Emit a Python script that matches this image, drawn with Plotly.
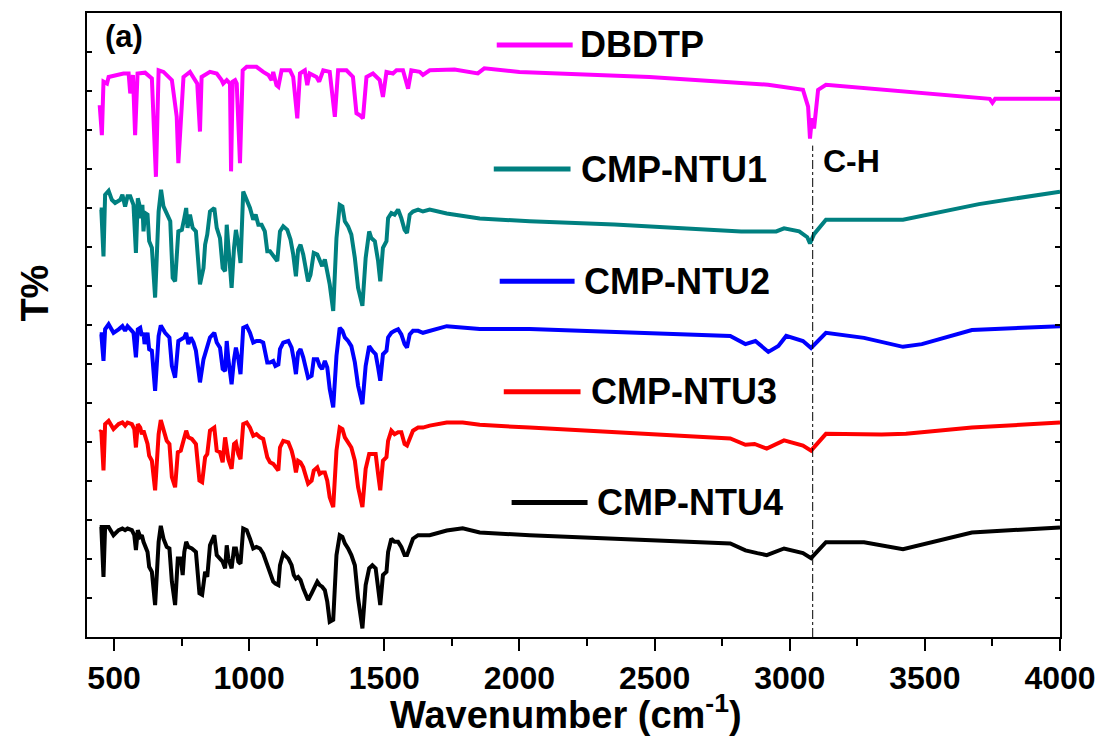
import plotly.graph_objects as go

# ---- FTIR spectra (wavenumber in cm-1, stacked transmittance in arbitrary units) ----
dbdtp_wn = [447, 455, 461, 474, 480, 535, 554, 560, 570, 578, 587, 615, 640, 655, 665,
            683, 714, 732, 738, 747, 757, 781, 800, 808, 818, 824, 855, 880, 898, 904,
            917, 929, 933, 939, 948, 954, 966, 976, 991, 1027, 1052, 1071, 1083, 1089, 1101,
            1108, 1120, 1151, 1163, 1178, 1188, 1206, 1215, 1224, 1249, 1259, 1274, 1298, 1317, 1329,
            1360, 1384, 1397, 1409, 1421, 1434, 1458, 1483, 1495, 1508, 1532, 1545, 1569, 1588, 1600,
            1631, 1643, 1668, 1760, 1846, 1870, 2000, 2481, 2920, 3049, 3068, 3075, 3082, 3090, 3098,
            3105, 3134, 3400, 3740, 3750, 3760, 4000]
dbdtp_t = [13.64, 12.87, 14.24, 14.19, 14.36, 14.45, 14.45, 13.94, 14.41, 12.87, 14.45, 14.47, 14.32, 11.80, 14.53,
           14.49, 14.28, 13.34, 12.15, 13.26, 14.36, 14.49, 14.28, 14.19, 12.96, 14.36, 14.49, 14.45, 14.28, 14.19,
           14.28, 14.19, 11.94, 14.24, 14.28, 14.19, 12.15, 14.53, 14.62, 14.62, 14.49, 14.41, 14.28, 14.49, 14.15,
           14.11, 14.53, 14.53, 14.36, 13.30, 14.45, 14.53, 14.15, 14.45, 14.36, 14.24, 14.53, 14.49, 13.34, 14.53,
           14.53, 14.36, 13.43, 13.38, 13.30, 14.36, 14.45, 14.28, 13.85, 14.49, 14.45, 14.53, 14.53, 14.06, 14.53,
           14.49, 14.41, 14.53, 14.55, 14.45, 14.58, 14.49, 14.36, 14.16, 14.03, 13.60, 12.78, 13.30, 13.04, 13.60,
           14.03, 14.16, 14.00, 13.80, 13.70, 13.80, 13.80]

ntu1_wn = [447, 453, 461, 467, 480, 492, 504, 523, 531, 541, 550, 560, 572, 581, 588, 594, 600, 605, 609, 615,
           624, 630, 640, 652, 665, 674, 683, 695, 708, 717, 726, 738, 751, 760, 767, 772, 781, 791, 803, 818,
           831, 837, 845, 855, 871, 880, 892, 902, 911, 917, 923, 935, 944, 951, 960, 968, 978, 991, 1003, 1015,
           1024, 1034, 1046, 1058, 1067, 1077, 1087, 1097, 1104, 1114, 1126, 1141, 1153, 1163, 1173, 1181, 1190, 1200, 1218, 1227,
           1239, 1252, 1261, 1270, 1280, 1289, 1298, 1311, 1323, 1335, 1345, 1354, 1366, 1378, 1391, 1403, 1419, 1431, 1444, 1452,
           1465, 1477, 1485, 1495, 1508, 1514, 1526, 1538, 1551, 1563, 1575, 1584, 1594, 1606, 1625, 1643, 1668, 1731, 1853, 2038,
           2351, 2820, 2950, 2979, 3035, 3065, 3075, 3090, 3134, 3419, 3659, 3700, 4000]
ntu1_t = [10.96, 10.96, 9.76, 11.34, 11.44, 11.21, 11.13, 11.21, 11.34, 11.04, 11.30, 11.30, 11.08, 9.85, 11.25, 11.08, 10.74, 11.08, 10.40, 10.87,
          10.83, 10.15, 9.98, 8.70, 10.91, 11.47, 11.04, 10.83, 10.66, 9.21, 9.12, 10.40, 10.44, 10.74, 11.00, 10.49, 10.83, 10.49, 10.40, 9.04,
          9.46, 10.06, 10.32, 10.91, 11.00, 10.49, 10.23, 9.46, 9.38, 10.57, 9.89, 8.95, 9.98, 10.44, 10.06, 9.59, 11.42, 11.21, 11.00, 10.70,
          10.83, 10.57, 10.57, 10.40, 9.89, 9.89, 9.81, 9.72, 9.64, 10.40, 10.53, 10.44, 10.19, 9.81, 9.25, 9.93, 10.06, 9.81, 9.12, 9.29,
          9.85, 9.81, 9.68, 9.51, 9.68, 9.38, 9.04, 8.36, 10.23, 11.08, 11.04, 10.66, 10.53, 10.32, 9.72, 8.95, 8.49, 9.72, 10.40, 10.23,
          10.15, 9.64, 9.12, 9.98, 10.15, 10.74, 10.87, 10.83, 10.96, 10.74, 10.44, 10.36, 10.83, 10.91, 10.96, 10.91, 10.96, 10.86, 10.73, 10.66,
          10.58, 10.40, 10.40, 10.48, 10.40, 10.25, 10.09, 10.33, 10.70, 10.70, 11.04, 11.10, 11.42]

ntu2_wn = [447, 453, 461, 467, 480, 498, 517, 531, 541, 550, 566, 572, 581, 588, 597, 603, 609, 613, 624, 630,
           640, 652, 665, 673, 689, 705, 714, 726, 738, 751, 760, 767, 775, 784, 794, 803, 818, 831, 837, 845,
           855, 871, 880, 892, 902, 911, 917, 923, 935, 944, 951, 960, 968, 978, 991, 1003, 1015, 1027, 1040, 1052,
           1067, 1077, 1089, 1097, 1108, 1114, 1126, 1145, 1157, 1165, 1173, 1181, 1190, 1200, 1218, 1231, 1239, 1252, 1261, 1270,
           1280, 1289, 1298, 1311, 1323, 1335, 1345, 1354, 1366, 1378, 1391, 1403, 1419, 1431, 1444, 1456, 1468, 1477, 1485, 1495,
           1508, 1514, 1526, 1538, 1551, 1563, 1575, 1584, 1594, 1606, 1625, 1643, 1668, 1731, 1853, 2038, 2780, 2836, 2873, 2921,
           2958, 2987, 3049, 3079, 3134, 3275, 3419, 3489, 3674, 4000]
ntu2_t = [7.76, 7.76, 7.08, 7.89, 8.02, 7.80, 7.89, 7.97, 7.85, 7.97, 7.85, 7.80, 7.17, 7.89, 7.93, 7.72, 7.80, 7.51, 7.80, 7.38,
          7.34, 6.31, 7.72, 7.99, 7.80, 7.68, 6.95, 6.65, 7.59, 7.63, 7.68, 7.80, 7.51, 7.68, 7.55, 7.34, 6.53, 7.12, 7.25, 7.38,
          7.68, 7.80, 7.55, 7.42, 6.87, 6.82, 7.59, 7.12, 6.48, 7.12, 7.42, 7.12, 6.74, 7.93, 7.97, 7.80, 7.55, 7.59, 7.59, 7.55,
          7.04, 7.04, 7.08, 6.95, 6.99, 7.38, 7.55, 7.59, 7.42, 7.12, 6.74, 7.29, 7.38, 7.17, 6.65, 6.70, 7.12, 7.12, 6.95, 6.87,
          7.08, 6.91, 6.36, 5.89, 7.21, 7.93, 7.85, 7.68, 7.59, 7.46, 7.04, 6.44, 5.97, 6.95, 7.46, 7.34, 7.25, 6.91, 6.57, 7.25,
          7.34, 7.68, 7.80, 7.85, 7.89, 7.76, 7.51, 7.42, 7.76, 7.85, 7.85, 7.80, 7.85, 7.97, 7.90, 7.90, 7.72, 7.51, 7.59, 7.31,
          7.46, 7.72, 7.59, 7.41, 7.80, 7.67, 7.44, 7.51, 7.87, 7.97]

ntu3_wn = [447, 453, 461, 467, 480, 498, 517, 531, 541, 550, 566, 575, 581, 588, 597, 603, 609, 615, 624, 630,
           640, 652, 665, 673, 683, 695, 705, 714, 726, 736, 747, 760, 767, 775, 788, 803, 816, 826, 837, 845,
           855, 871, 880, 892, 902, 911, 917, 923, 935, 944, 951, 960, 968, 978, 991, 1003, 1015, 1027, 1040, 1052,
           1067, 1077, 1089, 1097, 1108, 1114, 1126, 1145, 1157, 1165, 1173, 1181, 1190, 1200, 1218, 1231, 1239, 1252, 1261, 1270,
           1280, 1289, 1298, 1311, 1323, 1335, 1345, 1354, 1366, 1378, 1391, 1403, 1419, 1431, 1444, 1456, 1468, 1477, 1485, 1495,
           1508, 1514, 1526, 1538, 1551, 1563, 1575, 1584, 1594, 1606, 1625, 1643, 1668, 1731, 1790, 1853, 2038, 2780, 2836, 2870,
           2915, 2979, 3049, 3079, 3134, 3340, 3430, 3674, 4000]
ntu3_t = [5.25, 5.29, 4.27, 5.46, 5.54, 5.33, 5.46, 5.50, 5.42, 5.50, 5.46, 5.33, 4.86, 5.46, 5.37, 5.20, 5.29, 5.12, 4.95, 4.65,
          4.52, 3.76, 5.20, 5.56, 5.29, 5.03, 4.95, 4.10, 3.84, 4.74, 4.78, 5.12, 5.29, 5.12, 5.08, 4.95, 4.01, 3.97, 4.61, 4.69,
          5.29, 5.37, 4.78, 4.74, 4.48, 5.12, 4.86, 4.56, 4.31, 4.95, 4.99, 4.69, 4.56, 5.46, 5.50, 5.37, 5.16, 5.20, 5.12, 5.08,
          4.61, 4.48, 4.44, 4.35, 4.27, 4.86, 5.03, 4.99, 4.78, 4.56, 4.22, 4.52, 4.48, 4.35, 3.93, 4.01, 4.27, 4.35, 4.18, 4.22,
          4.22, 4.01, 3.58, 3.33, 4.78, 5.37, 5.33, 5.12, 4.99, 4.86, 4.52, 3.84, 3.33, 4.31, 4.69, 4.69, 4.69, 4.18, 3.76, 4.52,
          4.61, 5.03, 5.29, 5.20, 5.25, 5.25, 4.95, 4.91, 5.08, 5.29, 5.37, 5.37, 5.42, 5.50, 5.50, 5.44, 5.37, 5.09, 4.93, 4.95,
          4.83, 5.04, 4.91, 4.78, 5.21, 5.19, 5.21, 5.37, 5.50]

ntu4_wn = [447, 453, 461, 467, 480, 498, 517, 531, 541, 550, 566, 575, 581, 588, 597, 603, 609, 615, 624, 630,
           640, 652, 665, 673, 683, 695, 705, 714, 726, 736, 747, 754, 760, 767, 775, 788, 803, 816, 826, 837,
           845, 855, 871, 880, 892, 902, 911, 917, 923, 935, 944, 951, 960, 968, 978, 991, 1003, 1015, 1027, 1040,
           1052, 1067, 1077, 1089, 1097, 1108, 1114, 1126, 1145, 1157, 1165, 1173, 1181, 1190, 1200, 1218, 1231, 1239, 1252, 1261,
           1270, 1280, 1289, 1298, 1311, 1323, 1335, 1345, 1354, 1366, 1378, 1391, 1403, 1419, 1431, 1444, 1456, 1468, 1477, 1485,
           1495, 1508, 1514, 1526, 1538, 1551, 1563, 1575, 1584, 1594, 1606, 1625, 1643, 1668, 1731, 1790, 1853, 2038, 2780, 2836,
           2880, 2915, 2979, 3049, 3079, 3134, 3275, 3419, 3674, 4000]
ntu4_t = [2.82, 2.82, 1.54, 2.82, 2.82, 2.61, 2.74, 2.78, 2.74, 2.78, 2.74, 2.61, 2.23, 2.74, 2.57, 2.61, 2.44, 2.35, 2.18, 1.80,
          1.67, 0.82, 2.44, 2.85, 2.52, 2.31, 2.27, 1.42, 0.82, 2.01, 2.01, 1.59, 2.18, 2.44, 2.31, 2.27, 2.18, 1.12, 1.08, 1.67,
          1.54, 2.35, 2.61, 2.10, 2.01, 1.93, 1.76, 2.35, 2.01, 1.76, 2.27, 2.27, 1.93, 1.88, 2.78, 2.74, 2.52, 2.27, 2.31, 2.27,
          2.14, 1.84, 1.63, 1.42, 1.37, 1.33, 1.84, 2.14, 2.01, 1.84, 1.59, 1.50, 1.54, 1.46, 1.25, 0.95, 1.12, 1.25, 1.42, 1.33,
          1.29, 1.20, 0.90, 0.39, 0.44, 2.10, 2.61, 2.57, 2.40, 2.27, 2.10, 1.84, 0.99, 0.22, 1.33, 1.76, 1.84, 1.76, 1.16, 0.82,
          1.59, 1.67, 2.18, 2.52, 2.44, 2.44, 2.31, 2.10, 2.10, 2.31, 2.52, 2.61, 2.61, 2.61, 2.73, 2.79, 2.68, 2.61, 2.40, 2.22,
          2.15, 2.10, 2.27, 2.15, 2.02, 2.43, 2.43, 2.25, 2.68, 2.81]

series_names = ["DBDTP", "CMP-NTU1", "CMP-NTU2", "CMP-NTU3", "CMP-NTU4"]
series_wn = [dbdtp_wn, ntu1_wn, ntu2_wn, ntu3_wn, ntu4_wn]
series_t = [dbdtp_t, ntu1_t, ntu2_t, ntu3_t, ntu4_t]
series_colors = ["#FF00FF", "#008080", "#0000FF", "#FF0000", "#000000"]

ch_band = 3085          # C-H stretch marker (cm-1)
x_ticks = [500, 1000, 1500, 2000, 2500, 3000, 3500, 4000]

for wn, t, name in zip(series_wn, series_t, series_names):
    if len(wn) != len(t):
        raise ValueError(f"{name}: {len(wn)} wavenumbers vs {len(t)} values")

FONT = "Arial, 'Liberation Sans', Helvetica, sans-serif"

fig = go.Figure()
for wn, t, name, color in zip(series_wn, series_t, series_names, series_colors):
    fig.add_trace(go.Scatter(x=wn, y=t, mode="lines", name=name,
                             line=dict(color=color, width=4), showlegend=False))

# in-plot key: a short coloured segment followed by the sample name
key_layout = [  # (segment start, segment end, height, text start) in axis units
    (1916, 2197, 15.18, 2215),
    (1905, 2189, 12.00, 2222),
    (1927, 2204, 9.12, 2232),
    (1942, 2226, 6.29, 2258),
    (1971, 2252, 3.45, 2280),
]
for (x0, x1, yk, xt), name, color in zip(key_layout, series_names, series_colors):
    fig.add_shape(type="line", xref="x", yref="y", x0=x0, x1=x1, y0=yk, y1=yk,
                  line=dict(color=color, width=5))
    fig.add_annotation(x=xt, y=yk, xref="x", yref="y", text=name, showarrow=False,
                       xanchor="left", yanchor="middle",
                       font=dict(family=FONT, size=36, color="black", weight="bold"))

# C-H band guide line and label
fig.add_shape(type="line", xref="x", yref="y", x0=ch_band, x1=ch_band, y0=0, y1=12.6,
              line=dict(color="black", width=1, dash="dashdot"))
fig.add_annotation(x=3115, y=12.2, xref="x", yref="y", text="C-H", showarrow=False,
                   xanchor="left", yanchor="middle",
                   font=dict(family=FONT, size=32, color="black", weight="bold"))

# panel label
fig.add_annotation(x=460, y=15.4, xref="x", yref="y", text="(a)", showarrow=False,
                   xanchor="left", yanchor="middle",
                   font=dict(family=FONT, size=31, color="black", weight="bold"))

# axis titles
fig.add_annotation(x=0.492, y=-0.12, xref="paper", yref="paper",
                   text="Wavenumber (cm<sup>-1</sup>)", showarrow=False,
                   xanchor="center", yanchor="middle",
                   font=dict(family=FONT, size=38, color="black", weight="bold"))
fig.add_annotation(x=-0.053, y=0.551, xref="paper", yref="paper", text="T%",
                   showarrow=False, textangle=-90, xanchor="center", yanchor="middle",
                   font=dict(family=FONT, size=38, color="black", weight="bold"))

fig.update_layout(
    width=1107, height=744,
    margin=dict(l=87, r=45, t=11, b=107),
    paper_bgcolor="white", plot_bgcolor="white",
    showlegend=False,
    xaxis=dict(range=[400, 4000], tickvals=x_ticks, ticks="outside", ticklen=12,
               tickwidth=2, tickcolor="black", showline=True, linecolor="black",
               linewidth=2, mirror=True, showgrid=False, zeroline=False,
               tickfont=dict(family=FONT, size=32, color="black", weight="bold"),
               minor=dict(dtick=250, tick0=0, ticks="outside", ticklen=7,
                          tickwidth=2, tickcolor="black", showgrid=False)),
    xaxis2=dict(range=[400, 4000], overlaying="x", side="top", dtick=250, tick0=0,
                ticks="inside", ticklen=4, tickwidth=1.5, tickcolor="black",
                showticklabels=False, showline=False, showgrid=False, zeroline=False),
    yaxis=dict(range=[0, 16], dtick=1, ticks="inside", ticklen=5, tickwidth=1.5,
               tickcolor="black", showticklabels=False, showline=True,
               linecolor="black", linewidth=2, mirror="ticks", showgrid=False,
               zeroline=False),
)

fig.write_html("out.html")
